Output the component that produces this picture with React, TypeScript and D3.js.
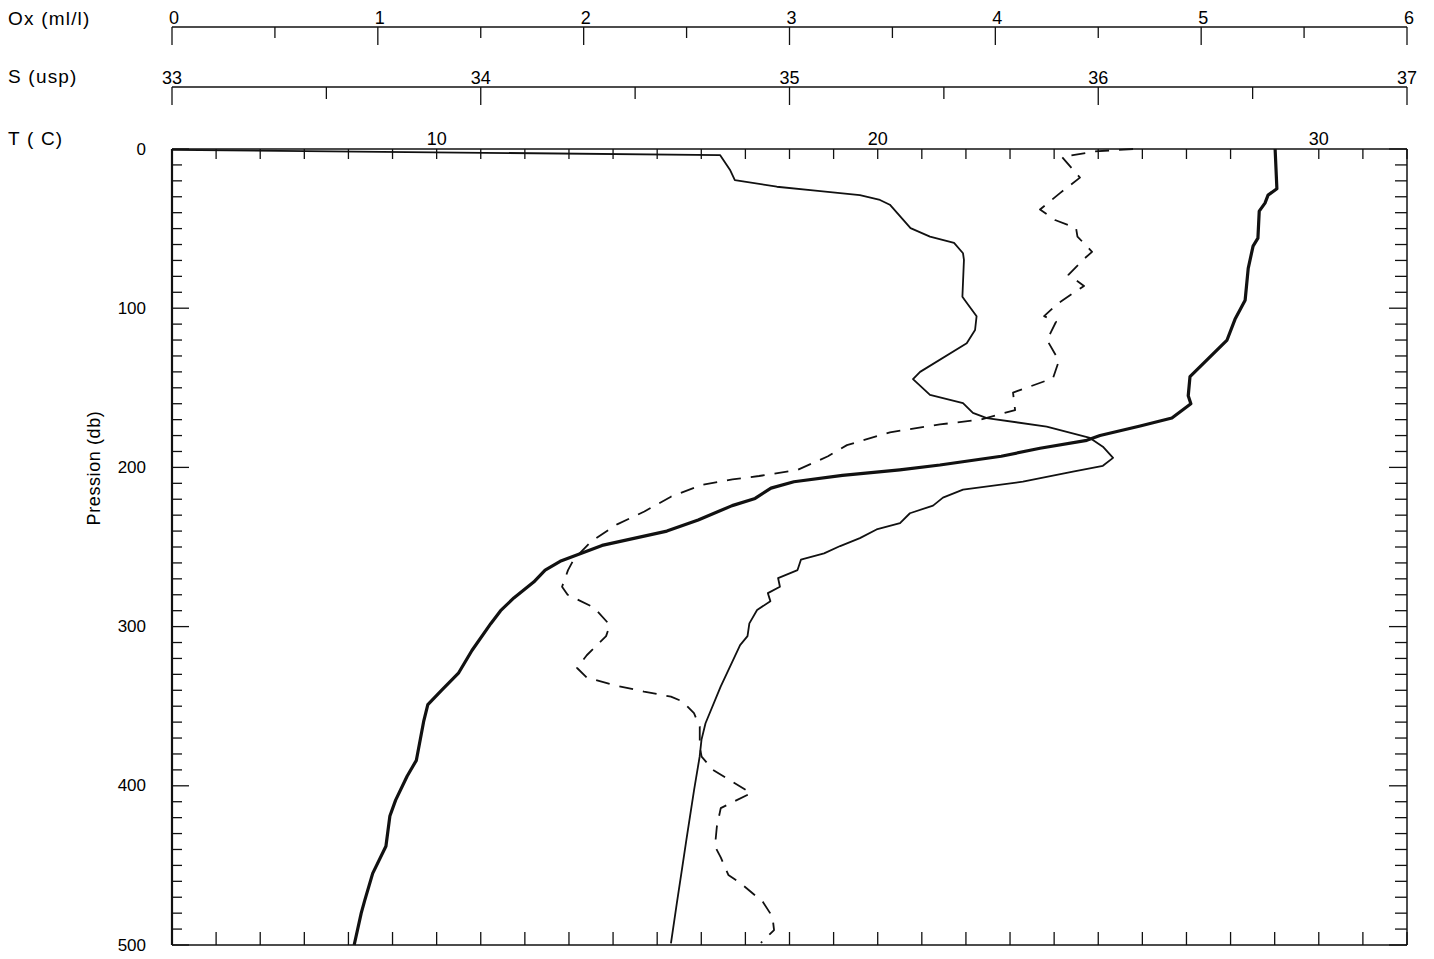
import React from "react";
import * as d3 from "d3";

// ---- Data (pressure in db) ----
const tempPres = [0, 25, 29, 34, 39, 56, 61, 75, 95, 107, 120, 143, 155, 160, 169, 174, 180, 183, 188, 193, 198.5, 201.5, 205, 209, 213, 219.5, 224, 233, 240, 249, 259, 264.5, 272, 282, 290, 298, 315, 329, 340, 349, 359, 384, 394, 409, 419, 438, 455, 472, 480, 500];
const tempVals = [29.01, 29.05, 28.85, 28.78, 28.65, 28.62, 28.51, 28.4, 28.33, 28.1, 27.92, 27.08, 27.04, 27.1, 26.67, 25.95, 25.04, 24.74, 23.68, 22.8, 21.41, 20.5, 19.2, 18.1, 17.58, 17.22, 16.7, 15.93, 15.22, 13.75, 12.8, 12.46, 12.2, 11.75, 11.45, 11.23, 10.8, 10.5, 10.11, 9.8, 9.71, 9.54, 9.33, 9.07, 8.94, 8.85, 8.55, 8.37, 8.29, 8.13];

const salPres = [0.5, 3.8, 13, 19.5, 23.7, 26, 29, 32, 35, 49.7, 55, 59, 65.5, 69.7, 92.8, 95, 105, 113.7, 122, 140, 144.5, 154.5, 159.6, 165.8, 169, 174.4, 181.5, 187, 194, 199, 202.7, 209, 214, 219, 224, 228.8, 235, 239, 244.4, 249.4, 254, 258, 264.5, 269.5, 275, 279, 284, 289.6, 298, 306, 311.6, 337.7, 360.7, 371, 381.7, 402.6, 434, 450.8, 473.8, 499];
const salVals = [33.0, 34.775, 34.807, 34.823, 34.959, 35.076, 35.228, 35.293, 35.325, 35.392, 35.455, 35.533, 35.562, 35.565, 35.56, 35.568, 35.606, 35.601, 35.574, 35.423, 35.4, 35.455, 35.562, 35.594, 35.639, 35.833, 35.973, 36.015, 36.048, 36.015, 35.918, 35.756, 35.562, 35.497, 35.465, 35.39, 35.358, 35.282, 35.228, 35.164, 35.112, 35.037, 35.026, 34.963, 34.969, 34.93, 34.938, 34.895, 34.87, 34.864, 34.84, 34.777, 34.728, 34.715, 34.709, 34.691, 34.666, 34.653, 34.635, 34.616];

const oxPres = [0, 1.5, 5, 18, 27.7, 38, 44.6, 49.6, 55, 64.6, 69, 79, 86, 97, 105, 108.5, 120, 133, 144, 153, 164, 170, 173, 178, 186, 193, 201.6, 205.4, 207.5, 211, 218.4, 227.7, 235.6, 246.6, 258, 264.5, 275, 280, 288, 299, 306, 318, 326, 332, 336.7, 340.8, 344, 347, 354.4, 362.8, 375.4, 381.7, 390, 404.6, 414, 425.7, 438, 445, 456, 461, 472.8, 482.2, 490.6, 498.7];
const oxVals = [4.669, 4.484, 4.324, 4.411, 4.314, 4.217, 4.29, 4.392, 4.399, 4.47, 4.431, 4.355, 4.431, 4.304, 4.237, 4.295, 4.251, 4.309, 4.28, 4.086, 4.096, 3.926, 3.731, 3.488, 3.279, 3.187, 3.039, 2.852, 2.723, 2.574, 2.424, 2.295, 2.165, 2.036, 1.951, 1.924, 1.895, 1.922, 2.05, 2.127, 2.109, 2.015, 1.968, 2.015, 2.145, 2.293, 2.424, 2.48, 2.536, 2.564, 2.564, 2.573, 2.628, 2.813, 2.666, 2.647, 2.638, 2.666, 2.703, 2.76, 2.87, 2.917, 2.925, 2.861];

// ---- Tick labels ----
const oxTicks = [0, 1, 2, 3, 4, 5, 6];
const salTicks = [33, 34, 35, 36, 37];
const tempTicks = [10, 20, 30];
const presTicks = [0, 100, 200, 300, 400, 500];

const FONT = "'Liberation Sans', Arial, Helvetica, sans-serif";

export default function App() {
  const L = 172, R = 1407, T = 149, B = 945;
  const y = d3.scaleLinear().domain([0, 500]).range([T, B]);
  const xT = d3.scaleLinear().domain([4, 32]).range([L, R]);
  const xS = d3.scaleLinear().domain([33, 37]).range([L, R]);
  const xO = d3.scaleLinear().domain([0, 6]).range([L, R]);

  const line = d3.line<[number, number]>().x((d) => d[0]).y((d) => d[1]);
  const tPath = line(tempPres.map((p, i) => [xT(tempVals[i]), y(p)]));
  const sPath = line(salPres.map((p, i) => [xS(salVals[i]), y(p)]));
  const oPath = line(oxPres.map((p, i) => [xO(oxVals[i]), y(p)]));

  const oxY = 27, salY = 87;
  const oxMinor = d3.range(0, 6.01, 0.5);
  const salMinor = d3.range(33, 37.01, 0.5);
  const tMinor = d3.range(4, 32.01, 1);
  const pMinor = d3.range(0, 500.1, 10);

  return (
    <svg width={1434} height={959} style={{ position: "absolute", left: 0, top: 0, background: "#fff" }} fontFamily={FONT}>
      <rect x={0} y={0} width={1434} height={959} fill="#fff" />
      {/* row labels */}
      <text x={8} y={25} fontSize={19} letterSpacing={1.2}>Ox (ml/l)</text>
      <text x={8} y={83} fontSize={19} letterSpacing={1.2}>S (usp)</text>
      <text x={8} y={145} fontSize={19} letterSpacing={1.2}>T ( C)</text>

      {/* Oxygen axis */}
      <line x1={L} x2={R} y1={oxY} y2={oxY} stroke="#111" strokeWidth={1.3} />
      {oxMinor.map((v) => {
        const major = Math.abs(v - Math.round(v)) < 1e-6;
        return <line key={"om" + v} x1={xO(v)} x2={xO(v)} y1={oxY} y2={oxY + (major ? 18 : 11)} stroke="#111" strokeWidth={1.3} />;
      })}
      {oxTicks.map((v) => (
        <text key={"ot" + v} x={xO(v) + 2} y={oxY - 3} fontSize={18} textAnchor="middle">{v}</text>
      ))}

      {/* Salinity axis */}
      <line x1={L} x2={R} y1={salY} y2={salY} stroke="#111" strokeWidth={1.3} />
      {salMinor.map((v) => {
        const major = Math.abs(v - Math.round(v)) < 1e-6;
        return <line key={"sm" + v} x1={xS(v)} x2={xS(v)} y1={salY} y2={salY + (major ? 18 : 12)} stroke="#111" strokeWidth={1.3} />;
      })}
      {salTicks.map((v) => (
        <text key={"st" + v} x={xS(v)} y={salY - 3} fontSize={18} textAnchor="middle">{v}</text>
      ))}

      {/* Temperature labels on top of plot */}
      {tempTicks.map((v) => (
        <text key={"tt" + v} x={xT(v)} y={T - 4} fontSize={18} textAnchor="middle">{v}</text>
      ))}

      {/* frame */}
      <line x1={L} x2={R} y1={T} y2={T} stroke="#111" strokeWidth={1.5} />
      <line x1={L} x2={R} y1={B} y2={B} stroke="#111" strokeWidth={1.5} />
      <line x1={L} x2={L} y1={T} y2={B} stroke="#111" strokeWidth={2.2} />
      <line x1={R} x2={R} y1={T} y2={B} stroke="#111" strokeWidth={1.5} />

      {/* top & bottom ticks every 1 C */}
      {tMinor.map((v) => (
        <g key={"tk" + v}>
          <line x1={xT(v)} x2={xT(v)} y1={T} y2={T + 10} stroke="#111" strokeWidth={1.3} />
          <line x1={xT(v)} x2={xT(v)} y1={B} y2={B - 13} stroke="#111" strokeWidth={1.3} />
        </g>
      ))}

      {/* left & right ticks every 10 db */}
      {pMinor.map((v) => {
        const major = v % 100 === 0;
        return (
          <g key={"pk" + v}>
            <line x1={L} x2={L + (major ? 17 : 10)} y1={y(v)} y2={y(v)} stroke="#111" strokeWidth={1.3} />
            <line x1={R} x2={R - (major ? 18 : 12)} y1={y(v)} y2={y(v)} stroke="#111" strokeWidth={1.3} />
          </g>
        );
      })}
      {presTicks.map((v) => (
        <text key={"pt" + v} x={146} y={y(v)} fontSize={17} textAnchor="end" dominantBaseline="central">{v}</text>
      ))}
      <text transform={`translate(100,468) rotate(-90)`} fontSize={18} letterSpacing={0.6} textAnchor="middle">Pression (db)</text>

      {/* profiles */}
      <path d={sPath || ""} fill="none" stroke="#111" strokeWidth={1.8} strokeLinejoin="round" />
      <path d={oPath || ""} fill="none" stroke="#111" strokeWidth={1.8} strokeDasharray="14,10" strokeLinejoin="round" />
      <path d={tPath || ""} fill="none" stroke="#111" strokeWidth={3.2} strokeLinejoin="round" />
    </svg>
  );
}
